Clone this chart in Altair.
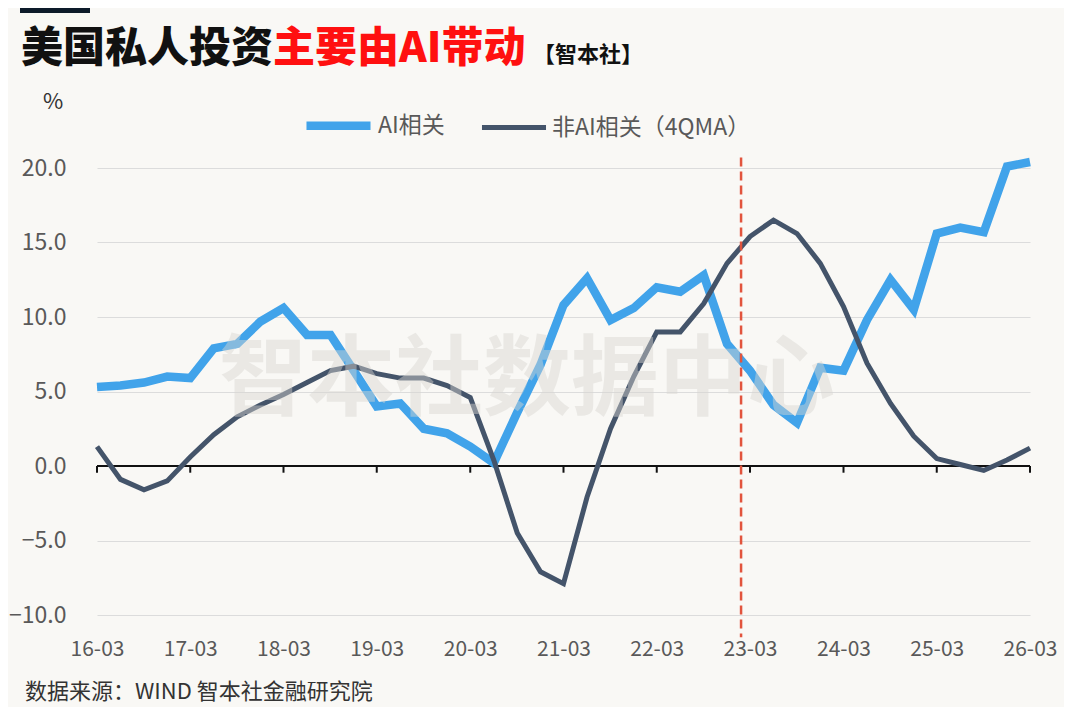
import altair as alt
import pandas as pd

quarters = [
    "2016-03", "2016-06", "2016-09", "2016-12",
    "2017-03", "2017-06", "2017-09", "2017-12",
    "2018-03", "2018-06", "2018-09", "2018-12",
    "2019-03", "2019-06", "2019-09", "2019-12",
    "2020-03", "2020-06", "2020-09", "2020-12",
    "2021-03", "2021-06", "2021-09", "2021-12",
    "2022-03", "2022-06", "2022-09", "2022-12",
    "2023-03", "2023-06", "2023-09", "2023-12",
    "2024-03", "2024-06", "2024-09", "2024-12",
    "2025-03", "2025-06", "2025-09", "2025-12",
    "2026-03",
]
ai_related = [
    5.3, 5.4, 5.6, 6.0, 5.9, 7.9, 8.2, 9.7, 10.6, 8.8,
    8.8, 6.4, 4.0, 4.2, 2.5, 2.2, 1.3, 0.2, 3.6, 6.8,
    10.8, 12.6, 9.8, 10.6, 12.0, 11.7, 12.8, 8.2, 6.4, 4.1,
    2.9, 6.6, 6.4, 9.8, 12.5, 10.5, 15.6, 16.0, 15.7, 20.1,
    20.4,
]
non_ai_4qma = [
    1.3, -0.9, -1.6, -1.0, 0.6, 2.1, 3.3, 4.1, 4.8, 5.6,
    6.4, 6.7, 6.2, 5.9, 5.9, 5.4, 4.6, 0.4, -4.5, -7.1,
    -7.9, -2.1, 2.5, 6.0, 9.0, 9.0, 10.9, 13.6, 15.4, 16.5,
    15.6, 13.6, 10.7, 6.9, 4.2, 2.0, 0.5, 0.1, -0.3, 0.4,
    1.2,
]
year_ticks = [
    "2016-03", "2017-03", "2018-03", "2019-03", "2020-03", "2021-03",
    "2022-03", "2023-03", "2024-03", "2025-03", "2026-03",
]
series_names = ["AI相关", "非AI相关（4QMA）"]
series_colors = ["#41a3ea", "#44546a"]
series_widths = [8.5, 5]
y_ticks = [-10, -5, 0, 5, 10, 15, 20]
marker_date = "2023-01-25"   # vertical dashed marker
marker_span = [20.7, -11.5]

BG = "#f9f8f5"
FONT = "Noto Sans CJK SC"

df = pd.DataFrame({
    "date": quarters * 2,
    "series": [series_names[0]] * len(quarters) + [series_names[1]] * len(quarters),
    "value": ai_related + non_ai_4qma,
})
ticks_df = pd.DataFrame({"date": year_ticks, "y": 0.0, "y2": -0.45})
zero_df = pd.DataFrame({"date": [quarters[0]], "date2": [quarters[-1]], "y": [0.0]})
marker_df = pd.DataFrame({"date": [marker_date], "y": [marker_span[0]], "y2": [marker_span[1]]})
one = pd.DataFrame({"a": [0]})

W, H = 933, 447

x_scale = alt.Scale(domain=[quarters[0], quarters[-1]], type="time")
y_scale = alt.Scale(domain=[-10, 20], nice=False, zero=False)

lines = alt.Chart(df).mark_line(strokeJoin="miter", strokeCap="butt", clip=False).encode(
    x=alt.X("date:T", scale=x_scale,
            axis=alt.Axis(values=year_ticks, format="%y-%m", title=None, grid=False,
                          domain=False, ticks=False, labelFontSize=21, labelColor="#595959",
                          labelFont=FONT, labelPadding=23, labelFlush=False)),
    y=alt.Y("value:Q", scale=y_scale,
            axis=alt.Axis(values=y_ticks, format=".1f", title=None, grid=True,
                          gridColor="#dcdcdc", gridWidth=1.2, domain=False, ticks=False,
                          labelFontSize=23, labelColor="#595959", labelFont=FONT,
                          labelPadding=31)),
    color=alt.Color("series:N", scale=alt.Scale(domain=series_names, range=series_colors),
                    legend=alt.Legend(title=None, orient="none", direction="horizontal",
                                      legendX=205, legendY=-79, symbolType="stroke",
                                      symbolSize=4100, labelFontSize=23, labelColor="#595959",
                                      labelFont=FONT, labelOffset=3, columnPadding=26,
                                      labelLimit=0)),
    strokeWidth=alt.StrokeWidth("series:N", scale=alt.Scale(domain=series_names, range=series_widths),
                                legend=None),
    order=alt.Order("series:N", sort="ascending"),
)

zero_line = alt.Chart(zero_df).mark_rule(color="#111111", strokeWidth=2).encode(
    x="date:T", x2="date2:T", y="y:Q"
)
tick_marks = alt.Chart(ticks_df).mark_rule(color="#111111", strokeWidth=2).encode(
    x="date:T", y="y:Q", y2="y2:Q"
)
marker = alt.Chart(marker_df).mark_rule(color="#e2543d", strokeWidth=2.5,
                                        strokeDash=[9, 5], clip=False).encode(
    x="date:T", y="y:Q", y2="y2:Q"
)

watermark = alt.Chart(one).mark_text(
    text="智本社数据中心", font=FONT, fontSize=88, fontWeight="bold",
    color="#d8d6d1", opacity=0.45, align="center", baseline="middle"
).encode(x=alt.value(430), y=alt.value(214))

top_bar = alt.Chart(one).mark_rect(color="#0d1b2a").encode(
    x=alt.value(-77), x2=alt.value(-7), y=alt.value(-160), y2=alt.value(-155)
)
title_black = alt.Chart(one).mark_text(
    text="美国私人投资", font=FONT, fontSize=42, fontWeight=900, color="#111111",
    align="left", baseline="middle"
).encode(x=alt.value(-76), y=alt.value(-119))
title_red = alt.Chart(one).mark_text(
    text="主要由AI带动", font=FONT, fontSize=42, fontWeight=900, color="#ff1010",
    align="left", baseline="middle"
).encode(x=alt.value(176), y=alt.value(-119))
title_tag = alt.Chart(one).mark_text(
    text="【智本社】", font=FONT, fontSize=22, fontWeight="bold", color="#111111",
    align="left", baseline="middle"
).encode(x=alt.value(436), y=alt.value(-113))
percent = alt.Chart(one).mark_text(
    text="%", font=FONT, fontSize=22, color="#333333", align="center", baseline="middle"
).encode(x=alt.value(-44), y=alt.value(-66))
source = alt.Chart(one).mark_text(
    text="数据来源：WIND 智本社金融研究院", font=FONT, fontSize=22, color="#333333",
    align="left", baseline="middle"
).encode(x=alt.value(-72), y=alt.value(524))

chart = alt.layer(
    zero_line, tick_marks, lines, marker, watermark,
    top_bar, title_black, title_red, title_tag, percent, source
).properties(
    width=W, height=H,
    background=BG,
    padding={"left": 89, "top": 160, "right": 34, "bottom": 92},
    autosize=alt.AutoSizeParams(type="none"),
).configure_view(stroke=None)

chart.save("out.html", embed_options={"renderer": "svg", "actions": False})
